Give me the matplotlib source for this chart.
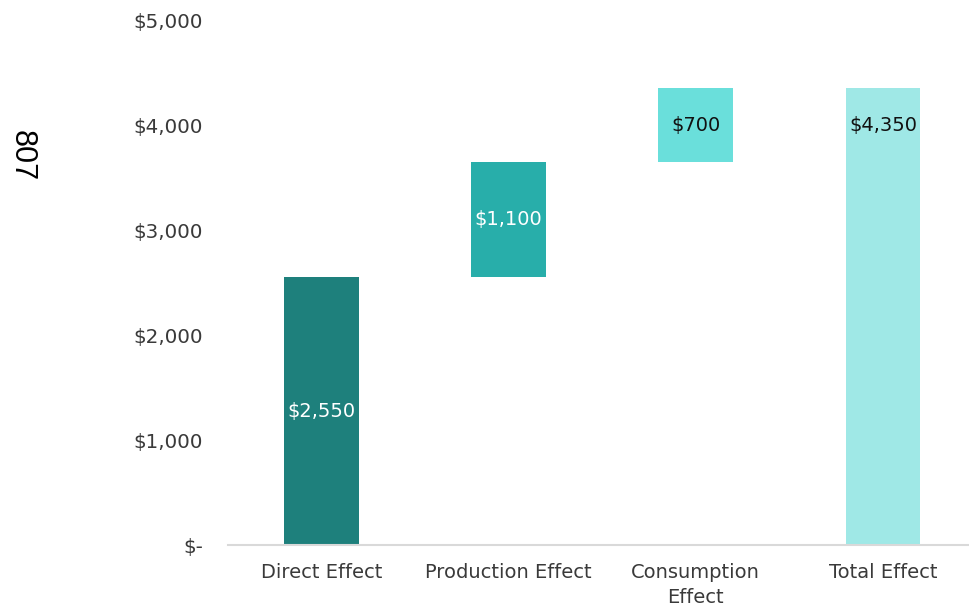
import matplotlib.pyplot as plt
from matplotlib.ticker import FuncFormatter

# waterfall data
categories = ["Direct Effect", "Production Effect", "Consumption\nEffect", "Total Effect"]
values = [2550, 1100, 700, 4350]
bases = [0, 2550, 3650, 0]
colors = ["#1E807C", "#28AEAA", "#6ADFDB", "#9FE8E6"]
label_colors = ["white", "white", "#111111", "#111111"]
y_label = "807"

plt.rcParams['font.family'] = ['DejaVu Sans']

fig = plt.figure(figsize=(9.69, 6.08), dpi=100)
ax = fig.add_axes([0.2353, 0.1036, 0.7647, 0.8635])

x = range(len(categories))
bars = ax.bar(x, values, bottom=bases, width=0.4, color=colors)

# value labels: centred for the steps, near the top for the total
for i, (b, v) in enumerate(zip(bases, values)):
    lbl = "${:,.0f}".format(v)
    if i == len(values) - 1:
        ax.annotate(lbl, xy=(i, b + v), xytext=(0, -27), textcoords="offset points",
                    ha="center", va="center", fontsize=14, color=label_colors[i])
    else:
        ax.text(i, b + v / 2, lbl, ha="center", va="center",
                fontsize=14, color=label_colors[i])

ax.set_ylim(0, 5000)
ax.set_xlim(-0.5, 3.46)
ax.set_yticks(range(0, 5001, 1000))
ax.yaxis.set_major_formatter(FuncFormatter(lambda v, p: "$-" if v == 0 else "${:,.0f}".format(v)))
ax.set_xticks(list(x))
ax.set_xticklabels(categories, linespacing=1.4)
ax.tick_params(axis="y", length=0, pad=18, labelsize=14.3, labelcolor="#3A3A3A")
ax.tick_params(axis="x", length=0, pad=13, labelsize=14, labelcolor="#3A3A3A")

for s in ["top", "right", "left"]:
    ax.spines[s].set_visible(False)
ax.spines["bottom"].set_color("#D9D9D9")
ax.spines["bottom"].set_linewidth(1.5)

fig.text(22 / 969, 1 - 156 / 608, y_label, rotation=270, ha="center", va="center",
         fontsize=22, color="black", family="Liberation Sans")

fig.savefig("out.png", dpi=100)
